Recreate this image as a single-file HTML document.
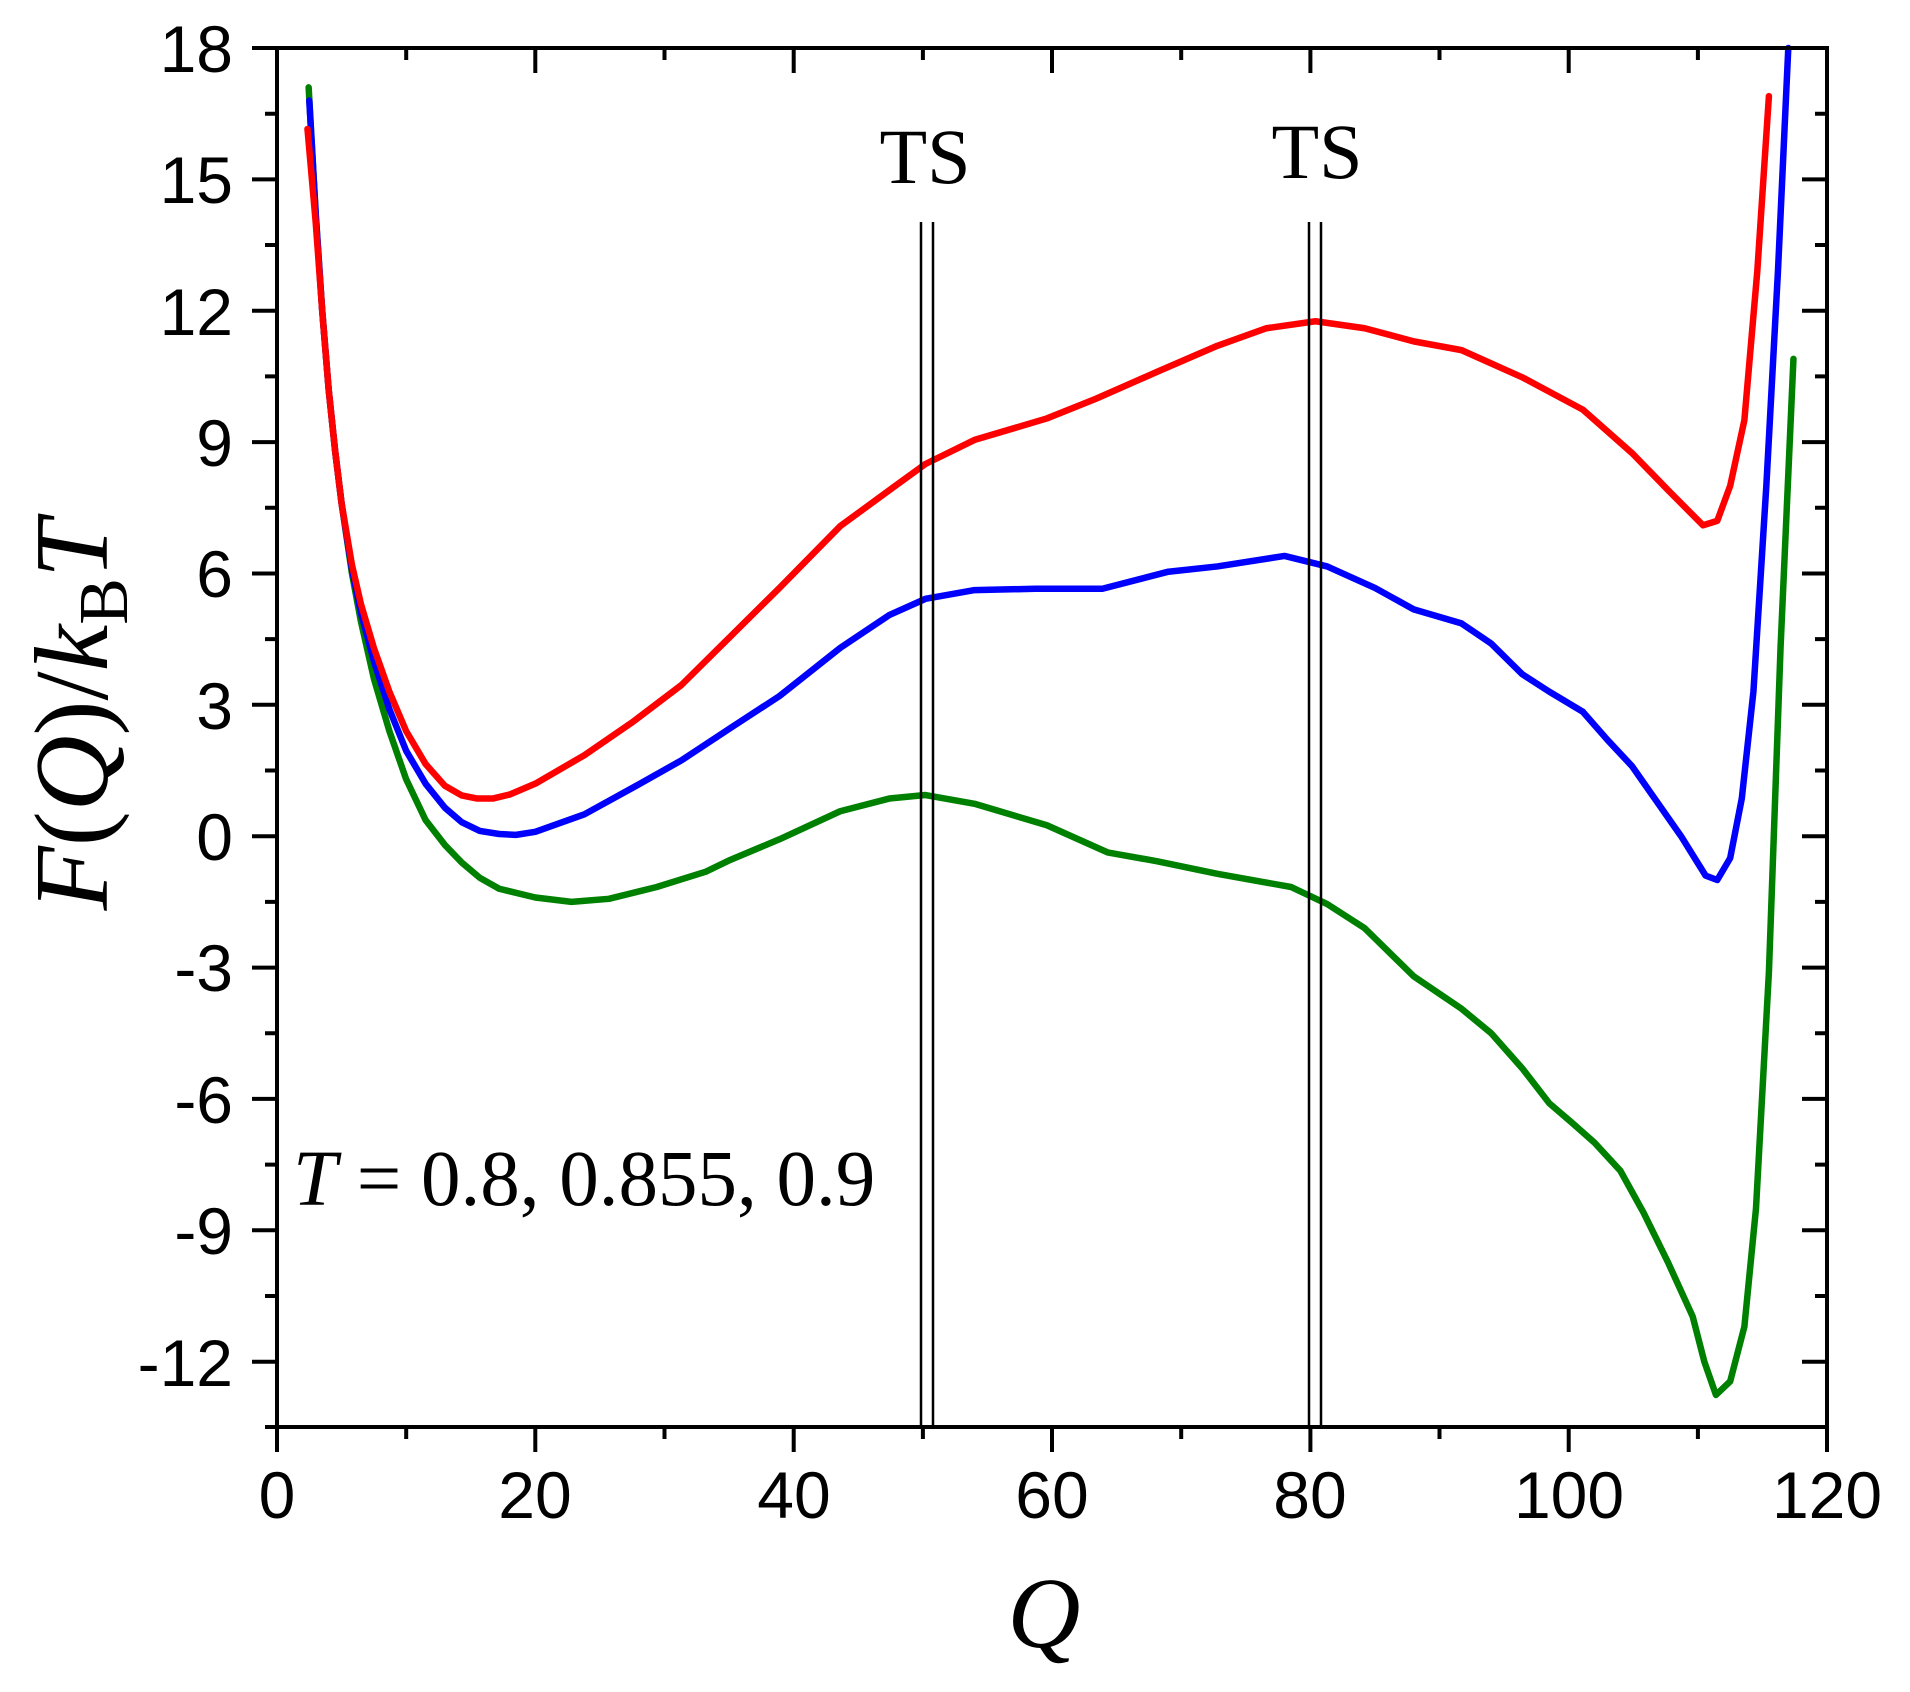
<!DOCTYPE html>
<html><head><meta charset="utf-8"><style>
html,body{margin:0;padding:0;background:#fff;width:1910px;height:1692px;overflow:hidden}
svg{display:block}
</style></head><body>
<svg width="1910" height="1692" viewBox="0 0 1910 1692" xmlns="http://www.w3.org/2000/svg">
<rect width="1910" height="1692" fill="#fff"/>
<g transform="translate(277,836.2) scale(12.917,-43.79)" fill="none" stroke-linejoin="round" stroke-linecap="round">
<polyline vector-effect="non-scaling-stroke" stroke="#008000" stroke-width="6.5" points="2.45,17.1 3,14.2 3.5,12 4,10.2 4.5,8.8 5,7.6 5.8,6 6.5,4.9 7.5,3.6 8.7,2.4 10,1.3 11.5,0.37 13,-0.2 14.3,-0.6 15.7,-0.95 17.2,-1.2 20,-1.4 22.8,-1.5 25.7,-1.43 29.4,-1.16 33.2,-0.81 35.1,-0.54 38.9,-0.07 43.6,0.57 47.4,0.86 50.2,0.94 54,0.74 59.6,0.25 64.3,-0.37 68.1,-0.57 72.8,-0.86 78.5,-1.16 81.3,-1.55 84.2,-2.1 88,-3.2 91.7,-3.94 94,-4.5 96.4,-5.3 98.5,-6.1 100.2,-6.53 102,-7 104,-7.64 105.8,-8.6 107.7,-9.74 109.6,-10.97 110.5,-12 111.4,-12.76 112.5,-12.45 113.6,-11.2 114.5,-8.5 115.5,-3.1 116.4,4.3 117.4,10.9"/>
<polyline vector-effect="non-scaling-stroke" stroke="#0000ff" stroke-width="6.5" points="2.5,16.8 3,14.2 3.5,12 4,10.2 4.5,8.8 5,7.6 5.8,6.1 6.5,5.1 7.5,4 8.7,2.9 10,1.95 11.5,1.2 13,0.65 14.3,0.32 15.7,0.12 17.2,0.05 18.5,0.03 20,0.1 23.8,0.5 27.5,1.1 31.3,1.73 35.1,2.47 38.9,3.2 43.6,4.3 47.4,5.05 50.2,5.42 54,5.62 58.7,5.65 63.9,5.65 69,6.04 72.8,6.16 78,6.4 81.3,6.16 85,5.67 88,5.18 91.7,4.86 94,4.4 96.4,3.7 98.5,3.3 101.1,2.84 103,2.2 104.9,1.6 108.7,0 110.6,-0.9 111.5,-1.0 112.5,-0.5 113.4,0.86 114.3,3.3 115.3,8.0 116.2,12.9 117,18"/>
<polyline vector-effect="non-scaling-stroke" stroke="#ff0000" stroke-width="6.5" points="2.36,16.15 3,14 3.5,12 4,10.2 4.5,8.8 5,7.6 5.8,6.2 6.5,5.3 7.5,4.3 8.7,3.3 10,2.4 11.5,1.65 13,1.15 14.3,0.93 15.5,0.86 16.7,0.86 18,0.95 20,1.2 23.8,1.85 27.5,2.6 31.3,3.45 35.1,4.56 38.9,5.67 43.6,7.08 47.4,7.9 50.2,8.5 54,9.05 59.6,9.54 63.4,9.99 68.1,10.6 72.8,11.2 76.6,11.6 80.4,11.76 84.2,11.6 88,11.3 91.7,11.1 96.4,10.48 101.1,9.74 104.9,8.75 107.7,7.9 110.4,7.1 111.5,7.2 112.5,8.0 113.6,9.5 114.6,12.9 115.5,16.9"/>
</g>
<g stroke="#000" stroke-width="2.5">
<line x1="921" y1="222" x2="921" y2="1427"/><line x1="933" y1="222" x2="933" y2="1427"/>
<line x1="1309" y1="222" x2="1309" y2="1427"/><line x1="1321" y1="222" x2="1321" y2="1427"/>
</g>
<g stroke="#000" stroke-width="4" fill="none">
<rect x="277" y="48" width="1550" height="1379"/>
<path d="M277,1427v25M535.3,1427v25M793.7,1427v25M1052,1427v25M1310.4,1427v25M1568.7,1427v25M1827,1427v25
M406.2,1427v12M664.5,1427v12M922.9,1427v12M1181.2,1427v12M1439.5,1427v12M1697.9,1427v12
M535.3,48v25M793.7,48v25M1052,48v25M1310.4,48v25M1568.7,48v25
M406.2,48v12M664.5,48v12M922.9,48v12M1181.2,48v12M1439.5,48v12M1697.9,48v12"/>
<path d="M277,48h-25M277,179.4h-25M277,310.7h-25M277,442.1h-25M277,573.5h-25M277,704.8h-25M277,836.2h-25M277,967.6h-25M277,1098.9h-25M277,1230.3h-25M277,1361.7h-25
M277,113.7h-12M277,245h-12M277,376.4h-12M277,507.8h-12M277,639.1h-12M277,770.5h-12M277,901.9h-12M277,1033.2h-12M277,1164.6h-12M277,1296h-12M277,1427h-12
M1827,179.4h-25M1827,310.7h-25M1827,442.1h-25M1827,573.5h-25M1827,704.8h-25M1827,836.2h-25M1827,967.6h-25M1827,1098.9h-25M1827,1230.3h-25M1827,1361.7h-25
M1827,113.7h-12M1827,245h-12M1827,376.4h-12M1827,507.8h-12M1827,639.1h-12M1827,770.5h-12M1827,901.9h-12M1827,1033.2h-12M1827,1164.6h-12M1827,1296h-12"/>
</g>
<g font-family="Liberation Sans, Arial, sans-serif" font-size="66" fill="#000" text-anchor="end">
<text x="233" y="72">18</text><text x="233" y="203">15</text><text x="233" y="335">12</text>
<text x="233" y="466">9</text><text x="233" y="597">6</text><text x="233" y="729">3</text>
<text x="233" y="860">0</text><text x="233" y="991">-3</text><text x="233" y="1123">-6</text>
<text x="233" y="1254">-9</text><text x="233" y="1386">-12</text>
</g>
<g font-family="Liberation Sans, Arial, sans-serif" font-size="66" fill="#000" text-anchor="middle">
<text x="277" y="1518">0</text><text x="535" y="1518">20</text><text x="794" y="1518">40</text>
<text x="1052" y="1518">60</text><text x="1310" y="1518">80</text><text x="1569" y="1518">100</text>
<text x="1827" y="1518">120</text>
</g>
<g font-family="Liberation Serif, Times New Roman, serif" fill="#000">
<text x="925" y="183" font-size="78" text-anchor="middle">TS</text>
<text x="1317" y="178" font-size="78" text-anchor="middle">TS</text>
<text x="293" y="1205" font-size="79"><tspan font-style="italic">T</tspan> = 0.8, 0.855, 0.9</text>
<text x="1044" y="1647" font-size="101" font-style="italic" text-anchor="middle">Q</text>
<text transform="translate(107,715) rotate(-90)" font-size="105" text-anchor="middle" font-style="italic">F<tspan font-style="normal">(</tspan>Q<tspan font-style="normal">)/</tspan>k<tspan font-size="70" dy="20" font-style="normal">B</tspan><tspan dy="-20">T</tspan></text>
</g>
</svg>
</body></html>
